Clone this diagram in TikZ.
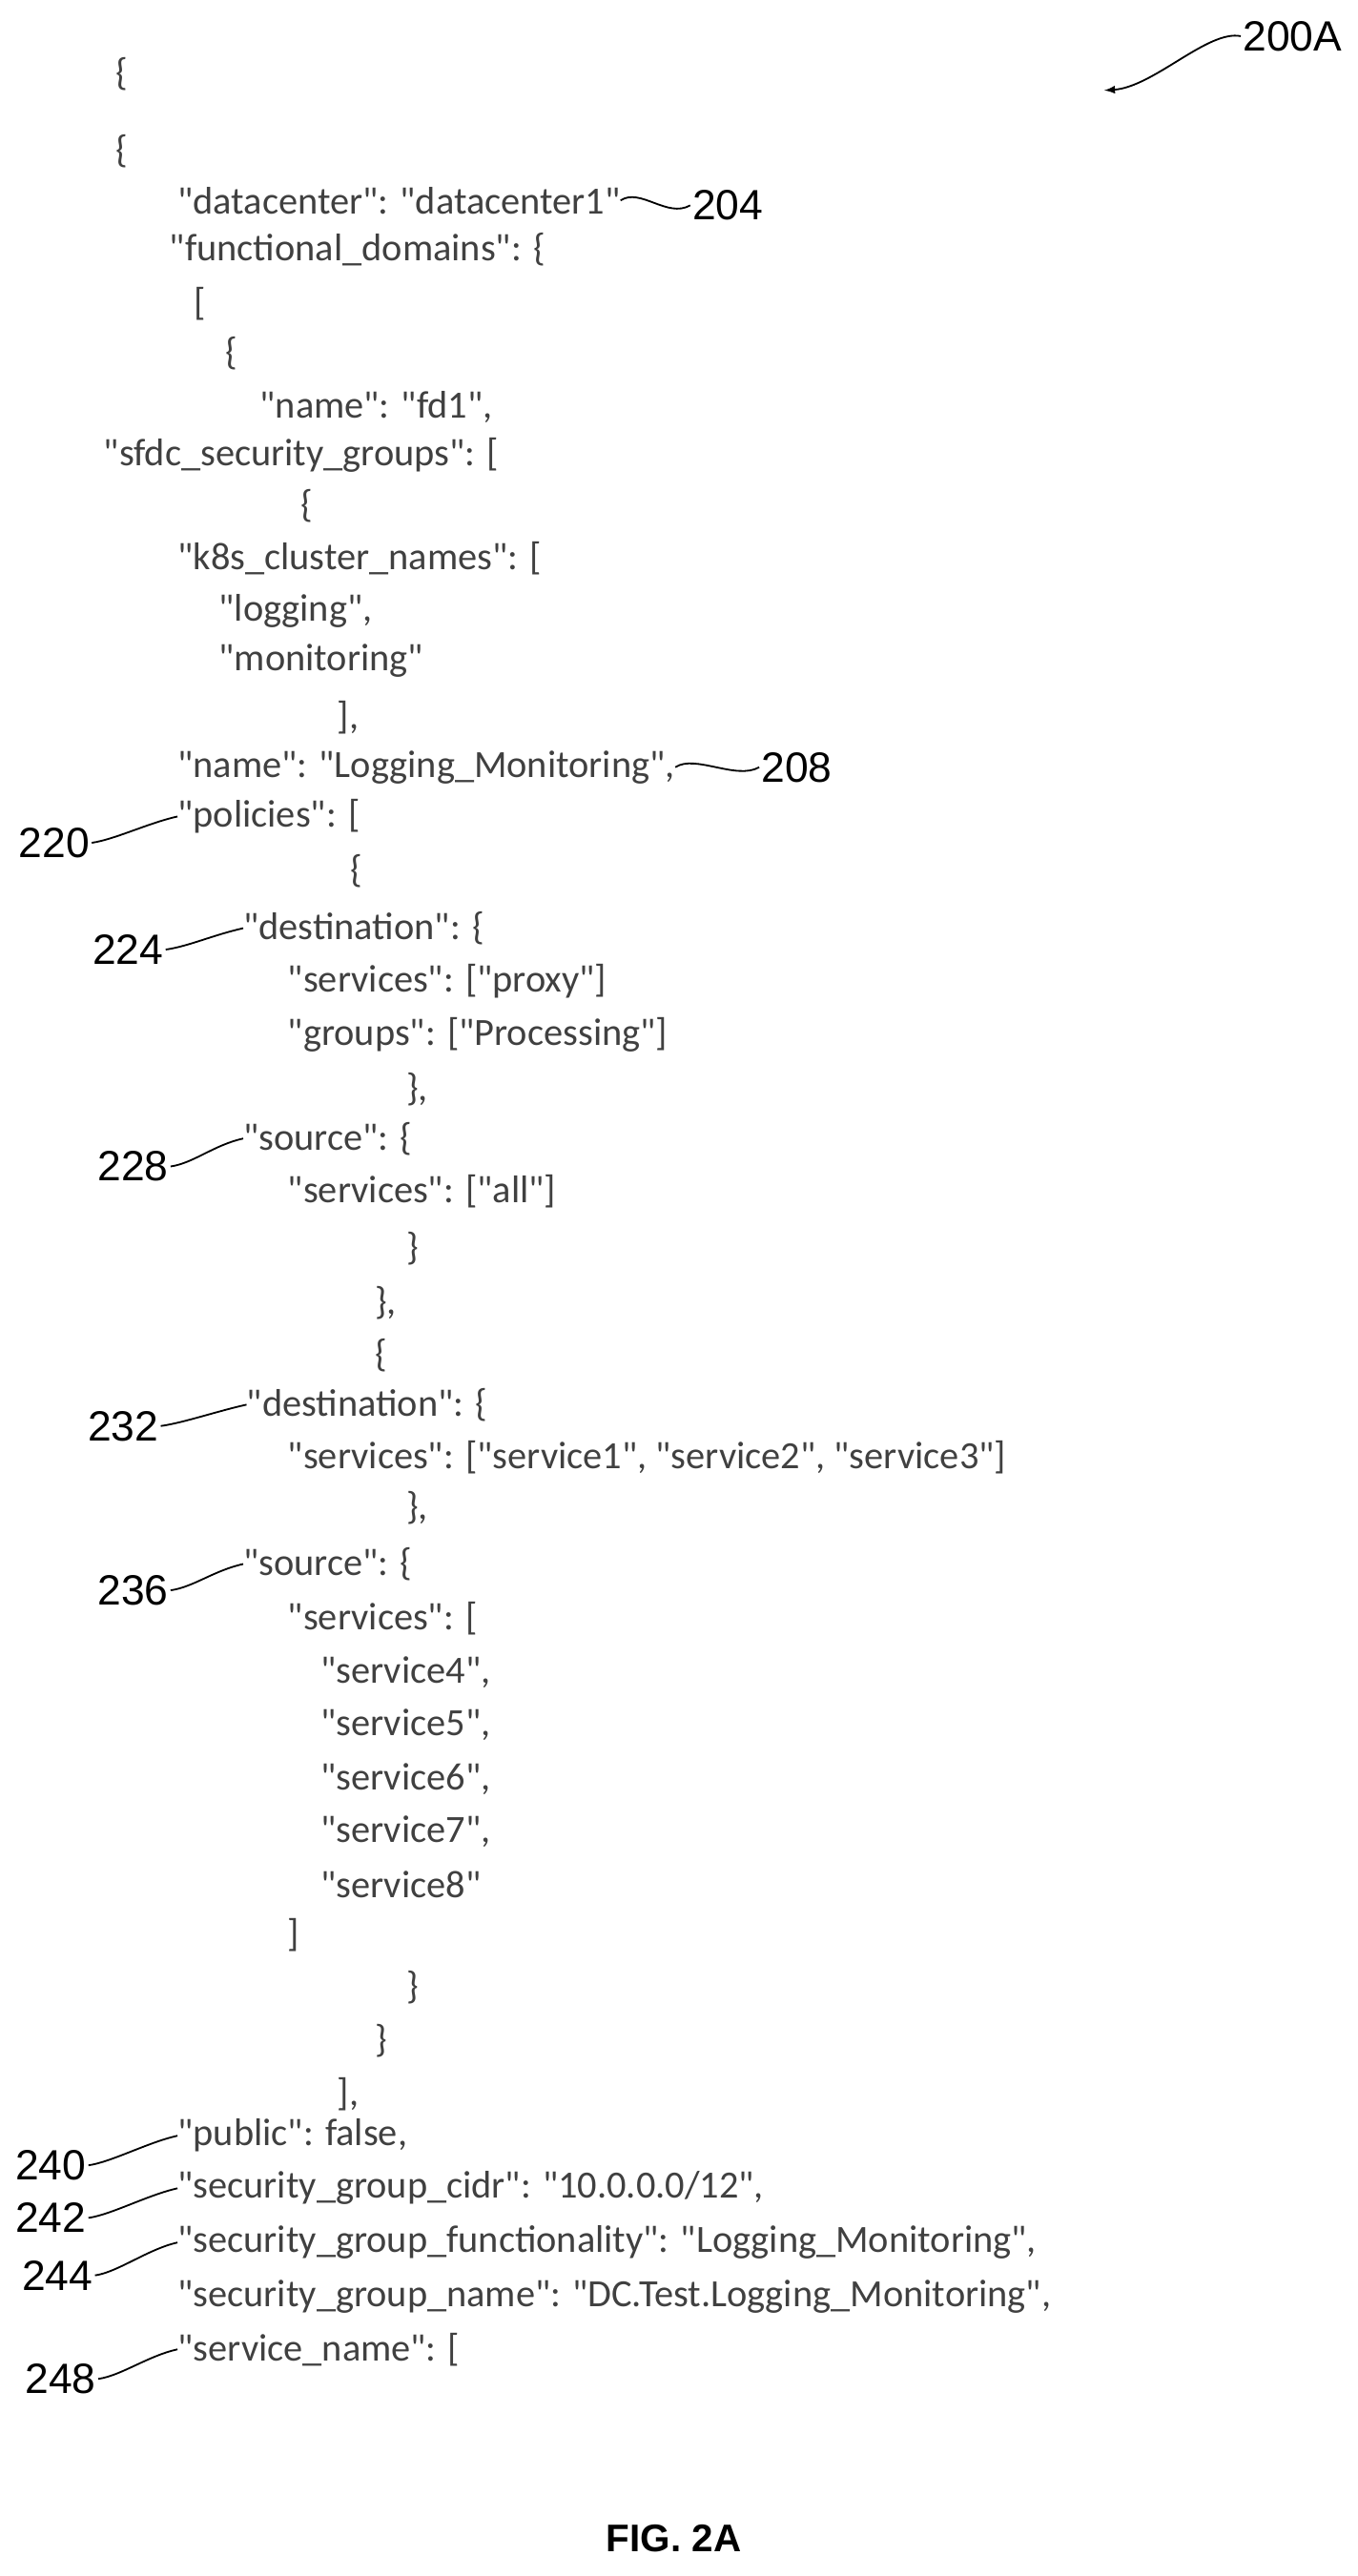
\documentclass[tikz,border=0pt]{standalone}
\usepackage{fontspec}
\setmainfont{Carlito}[Ligatures=TeXOff]
\newfontfamily\lblfont{Liberation Sans}
\begin{document}
\begin{tikzpicture}[x=0.3mm,y=-0.3mm,
  code/.style={anchor=west,inner sep=0pt,font=\fontsize{20}{22}\selectfont,text=black!75},
  lbl/.style={inner sep=1pt,font=\lblfont\fontsize{22}{24}\selectfont},
  lead/.style={line width=0.9pt}]
\useasboundingbox (0,0) rectangle (826,1568);
\node[code] (b0) at (70,45) {\{};
\node[code] (b1) at (70,92) {\{};
\node[code] (dc) at (108,122) {"datacenter": "datacenter1"};
\node[code] (fd) at (103,152) {"functional\_domains": \{};
\node[code] (b2) at (118,185) {[};
\node[code] (b3) at (137,215) {\{};
\node[code] (nm) at (158,248) {"name": "fd1",};
\node[code] (sg) at (63,277) {"sfdc\_security\_groups": [};
\node[code] (b4) at (183,308) {\{};
\node[code] (k8) at (108,340) {"k8s\_cluster\_names": [};
\node[code] (lg) at (133,372) {"logging",};
\node[code] (mo) at (133,402) {"monitoring"};
\node[code] (b5) at (205,437) {],};
\node[code] (nl) at (108,467) {"name": "Logging\_Monitoring",};
\node[code] (po) at (108,497) {"policies": [};
\node[code] (b6) at (213,530) {\{};
\node[code] (d1) at (148,565) {"destination": \{};
\node[code] (s1) at (175,597) {"services": ["proxy"]};
\node[code] (g1) at (175,630) {"groups": ["Processing"]};
\node[code] (b7) at (247,663) {\},};
\node[code] (so1) at (148,693) {"source": \{};
\node[code] (s2) at (175,725) {"services": ["all"]};
\node[code] (b8) at (247,760) {\}};
\node[code] (b9) at (228,793) {\},};
\node[code] (b10) at (228,825) {\{};
\node[code] (d2) at (150,855) {"destination": \{};
\node[code] (s3) at (175,887) {"services": ["service1", "service2", "service3"]};
\node[code] (b11) at (247,918) {\},};
\node[code] (so2) at (148,952) {"source": \{};
\node[code] (s4) at (175,985) {"services": [};
\node[code] (v4) at (195,1018) {"service4",};
\node[code] (v5) at (195,1050) {"service5",};
\node[code] (v6) at (195,1083) {"service6",};
\node[code] (v7) at (195,1115) {"service7",};
\node[code] (v8) at (195,1147) {"service8"};
\node[code] (b12) at (175,1178) {]};
\node[code] (b13) at (247,1210) {\}};
\node[code] (b14) at (228,1242) {\}};
\node[code] (b15) at (205,1275) {],};
\node[code] (pu) at (108,1300) {"public": false,};
\node[code] (ci) at (108,1332) {"security\_group\_cidr": "10.0.0.0/12",};
\node[code] (fu) at (108,1365) {"security\_group\_functionality": "Logging\_Monitoring",};
\node[code] (sn) at (108,1398) {"security\_group\_name": "DC.Test.Logging\_Monitoring",};
\node[code] (sv) at (108,1430) {"service\_name": [};
% labels
\node[lbl,anchor=west] (l204) at (420,125) {204};
\node[lbl,anchor=west] (l208) at (462,467) {208};
\node[lbl,anchor=west] (l220) at (10,513) {220};
\node[lbl,anchor=west] (l224) at (55,578) {224};
\node[lbl,anchor=west] (l228) at (58,710) {228};
\node[lbl,anchor=west] (l232) at (52,868) {232};
\node[lbl,anchor=west] (l236) at (58,968) {236};
\node[lbl,anchor=west] (l240) at (8,1318) {240};
\node[lbl,anchor=west] (l242) at (8,1350) {242};
\node[lbl,anchor=west] (l244) at (12,1385) {244};
\node[lbl,anchor=west] (l248) at (14,1448) {248};
\node[lbl,anchor=west] (l200) at (755,22) {200A};
\node[lbl,font=\lblfont\bfseries\fontsize{20}{22}\selectfont] (fig) at (410,1545) {FIG. 2A};
\coordinate (ar) at (672,55);
% leaders
\foreach \a/\b in {dc/l204,nl/l208}
  \draw[lead] (\a.east) .. controls +(12,-8) and +(-14,8) .. (\b.west);
\foreach \a/\b in {l220/po,l224/d1,l228/so1,l232/d2,l236/so2,l240/pu,l242/ci,l244/fu,l248/sv}
  \draw[lead] (\a.east) .. controls +(14,-2) and +(-18,4) .. (\b.west);
\draw[lead,-latex] (l200.west) .. controls +(-20,-4) and +(30,-2) .. (ar);
\end{tikzpicture}
\end{document}
